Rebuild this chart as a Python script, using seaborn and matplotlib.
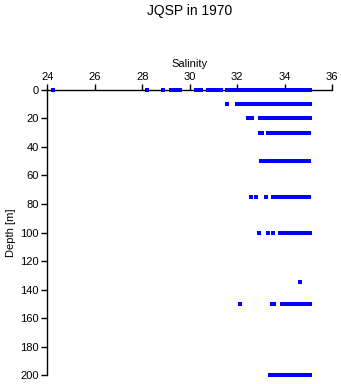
import matplotlib
matplotlib.use("Agg")
import matplotlib.pyplot as plt
import seaborn as sns
import pandas as pd

# Salinity readings at each standard depth
sal_0 = [24.25, 28.2, 28.87, 29.2, 29.3, 29.42, 29.6, 30.28, 30.38, 30.47,
         30.77, 30.88, 31.05, 31.15, 31.25, 31.32, 31.55, 31.65, 31.75, 31.85,
         31.95, 32.02, 32.1, 32.2, 32.3, 32.4, 32.5, 32.6, 32.7, 32.8, 32.9,
         33.0, 33.1, 33.2, 33.3, 33.4, 33.5, 33.6, 33.7, 33.8, 33.9, 34.0,
         34.1, 34.2, 34.3, 34.4, 34.5, 34.6, 34.7, 34.8, 34.9, 35.0, 35.08]
sal_10 = [31.58, 31.98, 32.08, 32.18, 32.28, 32.43, 32.5, 32.58, 32.68, 32.78,
          32.88, 32.98, 33.08, 33.18, 33.28, 33.38, 33.48, 33.58, 33.68, 33.78,
          33.88, 33.98, 34.08, 34.18, 34.28, 34.38, 34.48, 34.58, 34.68, 34.78,
          34.88, 34.98, 35.08]
sal_20 = [32.45, 32.55, 32.62, 32.95, 33.05, 33.15, 33.25, 33.35, 33.45, 33.55,
          33.65, 33.75, 33.85, 33.95, 34.05, 34.15, 34.25, 34.35, 34.45, 34.55,
          34.65, 34.75, 34.85, 34.95, 35.05, 35.08]
sal_30 = [32.95, 33.03, 33.3, 33.4, 33.5, 33.6, 33.7, 33.8, 33.9, 34.0, 34.1,
          34.2, 34.3, 34.4, 34.5, 34.6, 34.7, 34.8, 34.9, 35.02]
sal_50 = [33.02, 33.12, 33.22, 33.32, 33.4, 33.48, 33.58, 33.68, 33.78, 33.88,
          33.98, 34.08, 34.18, 34.28, 34.38, 34.48, 34.58, 34.68, 34.78, 34.88,
          34.96, 35.02]
sal_75 = [32.6, 32.8, 33.2, 33.5, 33.6, 33.7, 33.8, 33.9, 34.0, 34.1, 34.2,
          34.3, 34.4, 34.5, 34.6, 34.7, 34.8, 34.9, 35.02]
sal_100 = [32.9, 33.3, 33.5, 33.82, 33.92, 34.02, 34.12, 34.22, 34.32, 34.42,
           34.52, 34.62, 34.72, 34.82, 34.92, 35.02, 35.07]
sal_135 = [34.65]
sal_150 = [32.1, 33.45, 33.55, 33.9, 34.0, 34.1, 34.2, 34.3, 34.4, 34.5, 34.6,
           34.7, 34.8, 34.9, 35.0, 35.08]
sal_200 = [33.4, 33.5, 33.6, 33.7, 33.82, 33.92, 34.02, 34.12, 34.22, 34.32,
           34.42, 34.52, 34.62, 34.72, 34.82, 34.92, 35.02, 35.08]

depths = [0, 10, 20, 30, 50, 75, 100, 135, 150, 200]
sal_lists = [sal_0, sal_10, sal_20, sal_30, sal_50, sal_75, sal_100, sal_135,
             sal_150, sal_200]

x_ticks = [24, 26, 28, 30, 32, 34, 36]
y_ticks = [0, 20, 40, 60, 80, 100, 120, 140, 160, 180, 200]

rows = []
for d, vals in zip(depths, sal_lists):
    for v in vals:
        rows.append({"salinity": v, "depth": d})
df = pd.DataFrame(rows)

sns.set_style("white")
plt.rcParams['font.family'] = ['Liberation Sans', 'DejaVu Sans']
plt.rcParams['text.color'] = 'black'
plt.rcParams['axes.labelcolor'] = 'black'
plt.rcParams['xtick.color'] = 'black'
plt.rcParams['ytick.color'] = 'black'

fig = plt.figure(figsize=(3.41, 3.84), dpi=100)
ax = fig.add_axes([0.139, 0.023, 0.835, 0.743])

sns.scatterplot(data=df, x="salinity", y="depth", color="blue", marker="s",
                s=5, linewidth=0, ax=ax, clip_on=False, zorder=3)

ax.set_xlim(24, 36)
ax.set_ylim(200, 0)
ax.xaxis.tick_top()
ax.xaxis.set_label_position("top")
ax.set_xticks(x_ticks)
ax.set_yticks(y_ticks)
ax.set_xlabel("Salinity", fontsize=8, labelpad=3)
ax.set_ylabel("Depth [m]", fontsize=8, labelpad=3)
ax.tick_params(axis="both", labelsize=8, direction="out", length=4, width=1,
               color="black", labelcolor="black", pad=2)
ax.tick_params(axis="x", top=True, bottom=False)
ax.tick_params(axis="y", left=True, right=False)
for side in ["bottom", "right"]:
    ax.spines[side].set_visible(False)
for side in ["top", "left"]:
    ax.spines[side].set_color("black")
    ax.spines[side].set_linewidth(1)
ax.grid(False)

fig.text(0.557, 0.972, "JQSP in 1970", ha="center", va="center", fontsize=10,
         color="black")

fig.savefig("out.png", dpi=100)
